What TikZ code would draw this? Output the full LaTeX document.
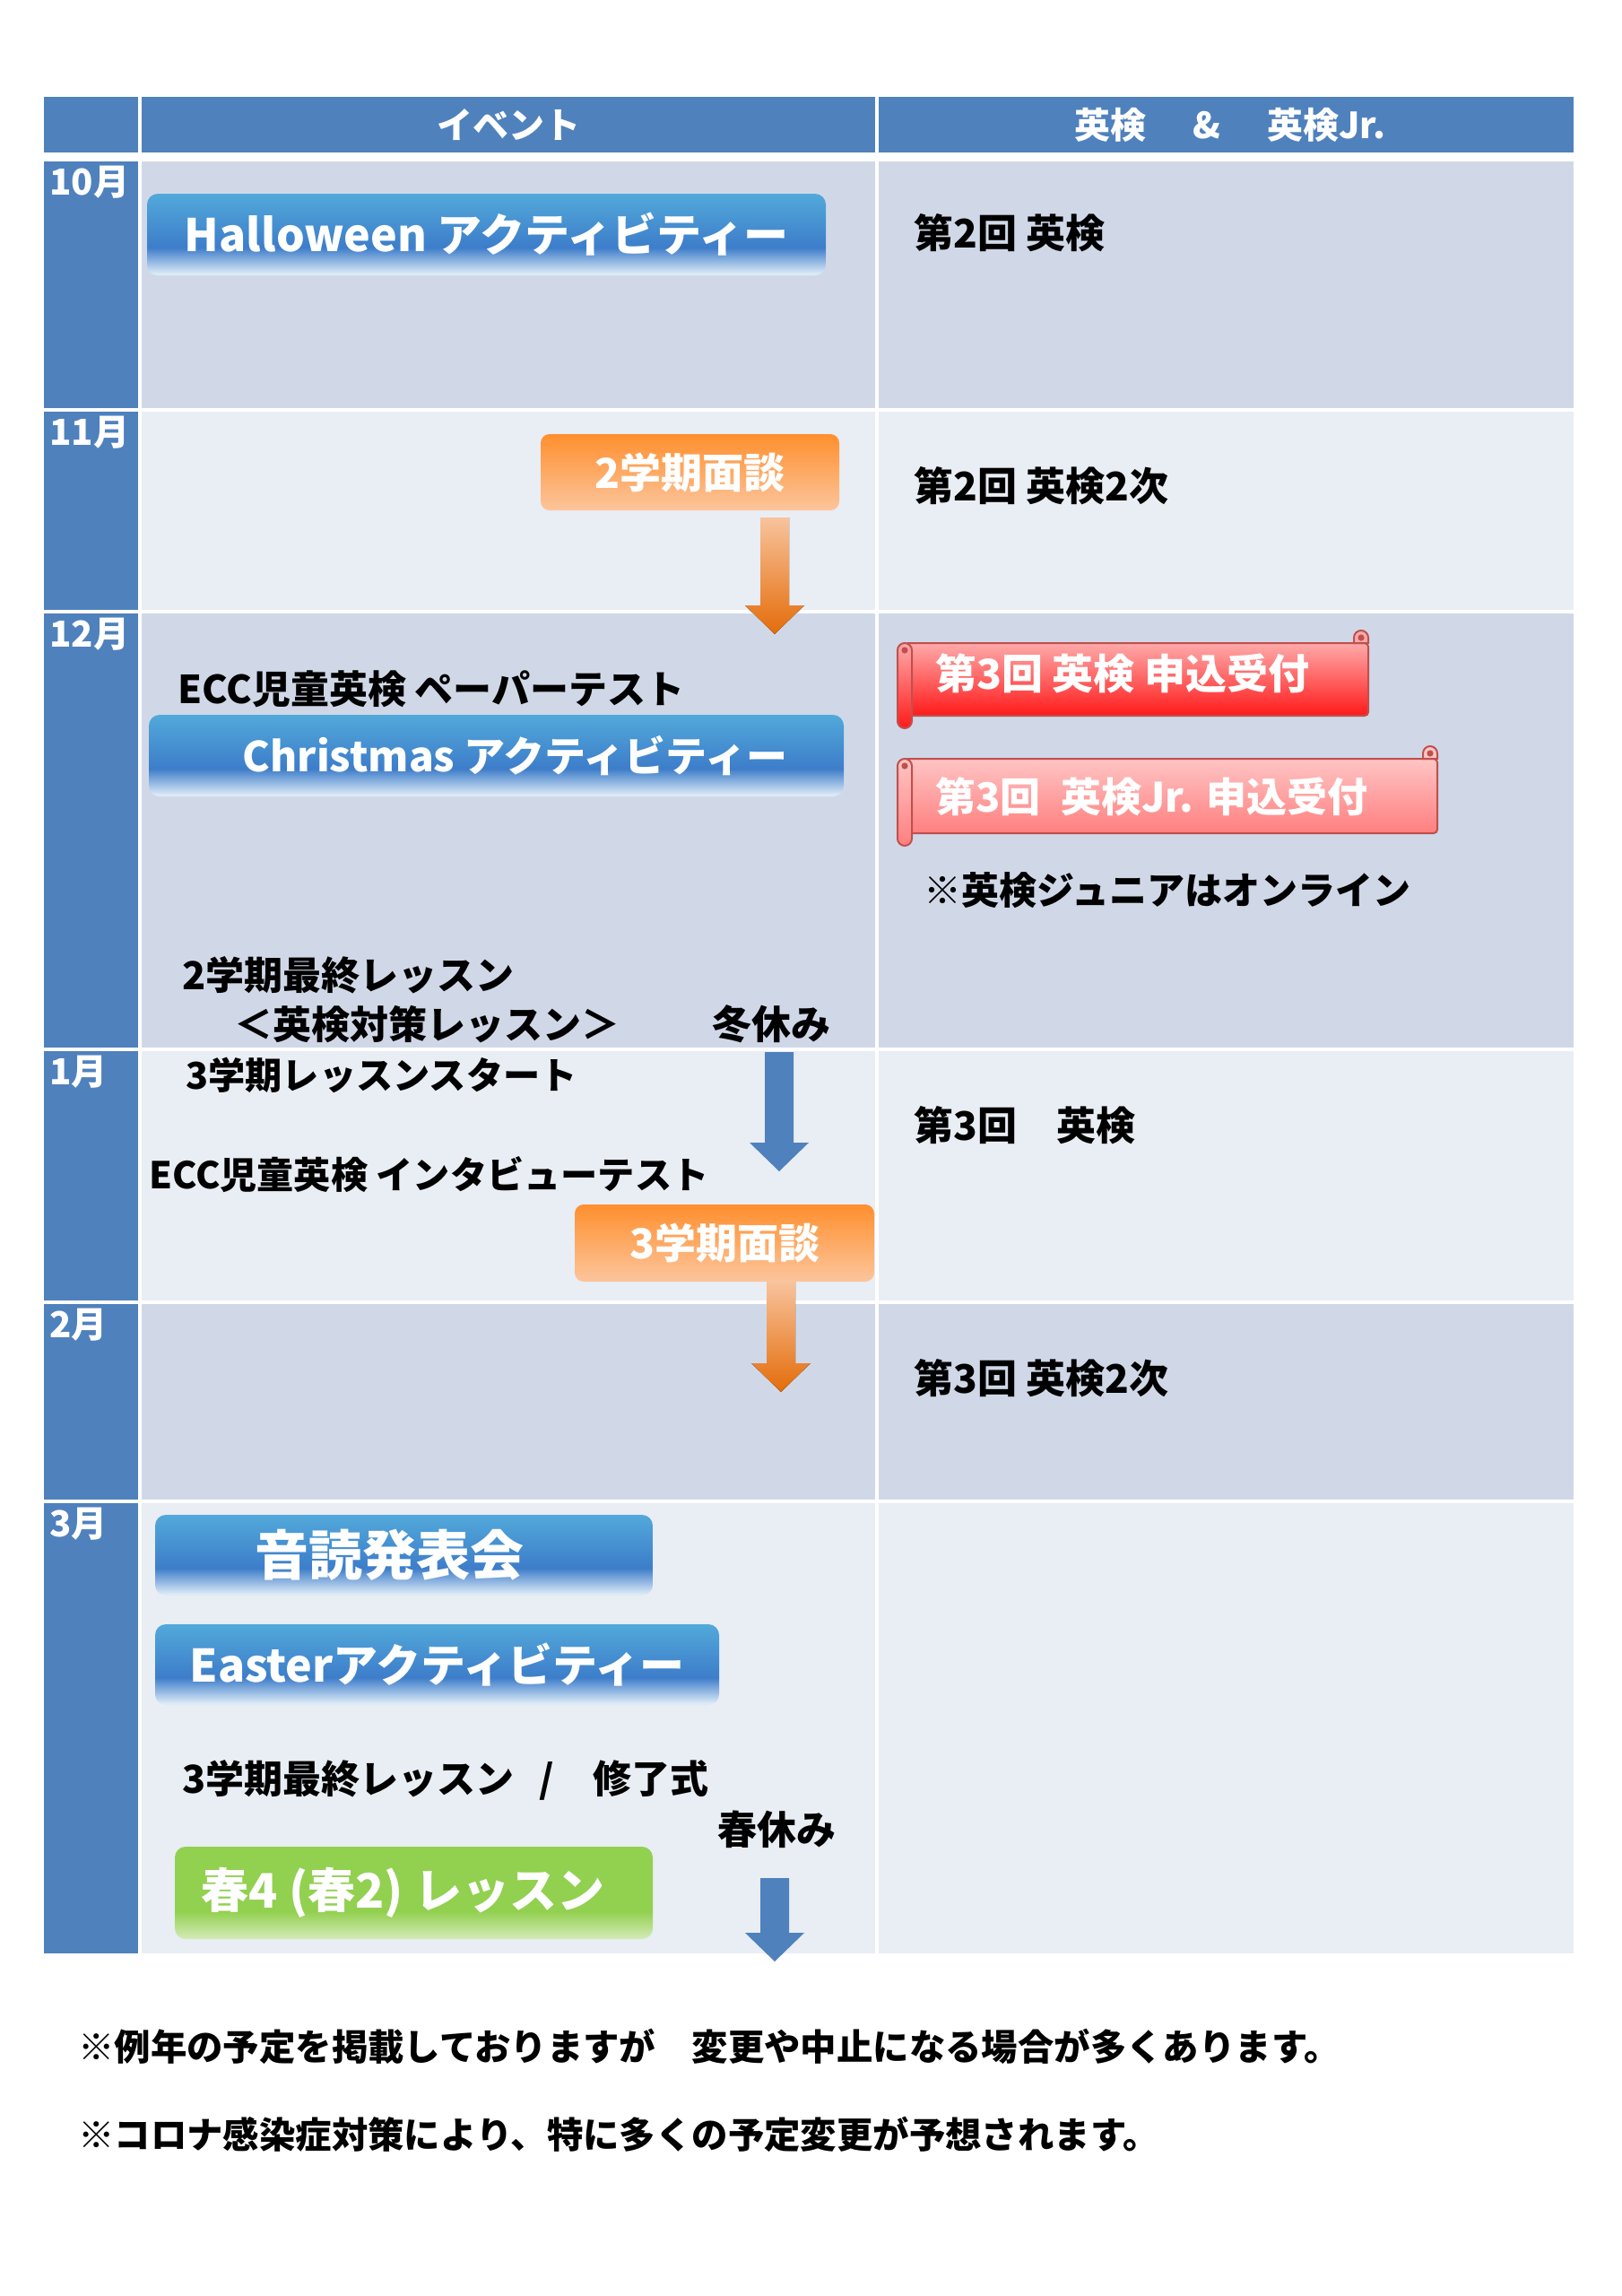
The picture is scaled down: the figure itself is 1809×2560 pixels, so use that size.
\documentclass[tikz,border=0pt]{standalone}
\usepackage{fontspec}
\setmainfont{Noto Sans CJK JP}
\usepackage{tikz}
\usetikzlibrary{positioning}
\usetikzlibrary{calc}

\definecolor{hdblue}{HTML}{4F81BD}
\definecolor{banddark}{HTML}{D0D8E8}
\definecolor{bandlight}{HTML}{E9EDF4}
\definecolor{evtop}{HTML}{52A9DA}
\definecolor{evmid}{HTML}{3D7DCA}
\definecolor{evpale}{HTML}{DDEBF7}
\definecolor{ortop}{HTML}{FF8F2E}
\definecolor{orbot}{HTML}{FCC59C}
\definecolor{arrtop}{HTML}{F8C39C}
\definecolor{arrbot}{HTML}{E46C0A}
\definecolor{grtop}{HTML}{92D050}
\definecolor{grpale}{HTML}{D5EBB8}
\definecolor{scatop}{HTML}{FFAAAA}
\definecolor{scabot}{HTML}{FF1A1A}
\definecolor{scbtop}{HTML}{FFC4C4}
\definecolor{scbbot}{HTML}{FF7F7F}
\definecolor{scline}{HTML}{C0504D}

\pgfdeclareverticalshading{evshade}{100bp}{color(0bp)=(evpale); color(26bp)=(evpale); color(42bp)=(evmid); color(75bp)=(evtop); color(100bp)=(evtop)}
\pgfdeclareverticalshading{grshade}{100bp}{color(0bp)=(grpale); color(25bp)=(grpale); color(40bp)=(grtop); color(75bp)=(grtop); color(100bp)=(grtop)}

\newcommand\fsz[1]{\fontsize{#1pt}{#1pt}\selectfont}

\newcommand\blkarrow[3]{%
  \fill[#3] let \p1=(#1), \p2=(#2) in
    (\x1-8pt,\y1) -- (\x1+8pt,\y1) -- (\x1+8pt,\y2+16pt) -- (\x1+16.5pt,\y2+16pt)
    -- (\x2,\y2) -- (\x1-16.5pt,\y2+16pt) -- (\x1-8pt,\y2+16pt) -- cycle;}

\newcommand\scrollbox[6]{%
  \draw[scroll, top color=#5, bottom color=#6, rounded corners=2pt] (#1+8,#2) rectangle (#3,#4);
  \draw[scroll, top color=#5, bottom color=#5] (#3,#2) -- (#3,#2-6) arc (0:180:4pt) -- (#3-16,#2) -- cycle;
  \draw[scroll, top color=#5, bottom color=#6] (#1,#2+8) -- (#1,#4+6) arc (180:360:4pt) -- (#1+16,#2+8) arc (0:180:4pt) -- cycle;
  \fill[scline] (#3-8,#2-6) circle (1.8pt);
  \fill[scline] (#1+8,#2+8) circle (1.8pt);}

\tikzset{
  hdtxt/.style={text=white, inner sep=0pt, font=\fsz{20}\bfseries},
  mon/.style={anchor=north west, inner sep=0pt, text=white, font=\fsz{20}\bfseries},
  txt/.style={anchor=west, inner sep=0pt, font=\fsz{21.5}\bfseries},
  note/.style={anchor=west, inner sep=0pt, font=\fsz{20.2}\bfseries},
  evbox/.style={shade, shading=evshade, rounded corners=6pt, text=white, inner sep=0pt},
  orbox/.style={top color=ortop, bottom color=orbot, rounded corners=5pt, text=white, inner sep=0pt, font=\fsz{23}\bfseries},
  grbox/.style={shade, shading=grshade, rounded corners=6pt, text=white, inner sep=0pt},
  scroll/.style={draw=scline, line width=1pt},
  sctxt/.style={anchor=west, inner sep=0pt, text=white, font=\fsz{23}\bfseries},
  orarrow/.style={top color=arrtop, bottom color=arrbot},
  blarrow/.style={fill=hdblue}
}

\begin{document}
\begin{tikzpicture}[x=0.5pt,y=-0.5pt]
  \fill[white] (0,0) rectangle (1809,2560);
  \path[use as bounding box] (0,0) rectangle (1809,2560);

  \fill[hdblue] (49,108) rectangle (154,170);
  \fill[hdblue] (158,108) rectangle (976,170);
  \fill[hdblue] (980,108) rectangle (1755,170);
  \node[hdtxt] (hev) at (567,139) {イベント};
  \node[hdtxt] (hek) at (1372,139) {英検\hspace{1.3em}\&\hspace{1.3em}英検Jr.};

  \foreach \ytop/\ybot/\band/\mname [count=\i] in {180/455/banddark/10, 459/680/bandlight/11, 684/1168/banddark/12, 1172/1450/bandlight/1, 1454/1672/banddark/2, 1676/2178/bandlight/3}{
    \fill[hdblue] (49,\ytop) rectangle (154,\ybot);
    \fill[\band] (158,\ytop) rectangle (976,\ybot);
    \fill[\band] (980,\ytop) rectangle (1755,\ybot);
    \node[mon] (mon\i) at (55,\ytop+5) {\mname 月};
  }

  \node[txt, font=\fsz{22}\bfseries] (ek2) at (1019,260) {第2回 英検};
  \node[txt, font=\fsz{22}\bfseries] (ek2b) at (1019,542) {第2回 英検2次};
  \node[txt, font=\fsz{22}\bfseries] (ek3) at (1019,1255) {第3回　英検};
  \node[txt, font=\fsz{22}\bfseries] (ek3b) at (1019,1537) {第3回 英検2次};

  \scrollbox{1001}{717}{1526}{798}{scatop}{scabot}
  \node[sctxt] (apply) at (1043,751) {第3回 英検 申込受付};
  \scrollbox{1001}{846}{1603}{929}{scbtop}{scbbot}
  \node[sctxt, font=\fsz{22.5}\bfseries] (applyjr) at (1043,888) {第3回\hspace{0.5em}英検Jr. 申込受付};
  \node[txt, font=\fsz{21}\bfseries] (online) at (1030,993) {※英検ジュニアはオンライン};

  \node[evbox, minimum width=378.5pt, minimum height=45.5pt, font=\fsz{25}\bfseries] (hallo) at (542.5,261.5) {Halloween アクティビティー};
  \node[orbox, minimum width=166.5pt, minimum height=42.5pt] (men2) at (769.5,526.5) {2学期面談};
  \coordinate (a1s) at (864,577);
  \coordinate (a1e) at (864,707);
  \blkarrow{a1s}{a1e}{orarrow}

  \node[txt] (paper) at (198,768) {ECC児童英検 ペーパーテスト};
  \node[evbox, minimum width=387.5pt, minimum height=45.5pt, font=\fsz{23}\bfseries] (xmas) at (553.5,842.5) {\hspace{21pt}Christmas アクティビティー};
  \node[txt] (last2) at (203,1087) {2学期最終レッスン};
  \node[txt] (taisaku) at (261,1142) {＜英検対策レッスン＞};
  \node[txt, font=\fsz{22}\bfseries] (fuyu) at (794,1142) {冬休み};
  \coordinate (a2s) at (869,1173);
  \coordinate (a2e) at (869,1306);
  \blkarrow{a2s}{a2e}{blarrow}

  \node[txt, font=\fsz{20.6}\bfseries] (start3) at (207,1199) {3学期レッスンスタート};
  \node[txt, font=\fsz{20.6}\bfseries] (intv) at (166,1310) {ECC児童英検 インタビューテスト};
  \node[orbox, minimum width=167pt, minimum height=43pt] (men3) at (808,1386) {3学期面談};
  \coordinate (a3s) at (871,1429);
  \coordinate (a3e) at (871,1552);
  \blkarrow{a3s}{a3e}{orarrow}

  \node[evbox, minimum width=277.5pt, minimum height=45pt, font=\fsz{30}\bfseries] (ondoku) at (450.5,1734) {音読発表会\hspace{16pt}\mbox{}};
  \node[evbox, minimum width=314.5pt, minimum height=45pt, font=\fsz{25}\bfseries] (easter) at (487.5,1856) {Easterアクティビティー};
  \node[txt] (last3) at (203,1985) {3学期最終レッスン\hspace{0.65em}/\hspace{1em}修了式};
  \node[txt, font=\fsz{22}\bfseries] (haru) at (800,2040) {春休み};
  \node[grbox, minimum width=266.5pt, minimum height=51.5pt, font=\fsz{26.5}\bfseries] (spring) at (461.5,2110.5) {春4 (春2) レッスン\hspace{12pt}\mbox{}};
  \coordinate (a4s) at (864,2094);
  \coordinate (a4e) at (864,2187);
  \blkarrow{a4s}{a4e}{blarrow}

  \node[note] (note1) at (87,2282) {※例年の予定を掲載しておりますが　変更や中止になる場合が多くあります。};
  \node[note] (note2) at (87,2380) {※コロナ感染症対策により、特に多くの予定変更が予想されます。};
\end{tikzpicture}
\end{document}
